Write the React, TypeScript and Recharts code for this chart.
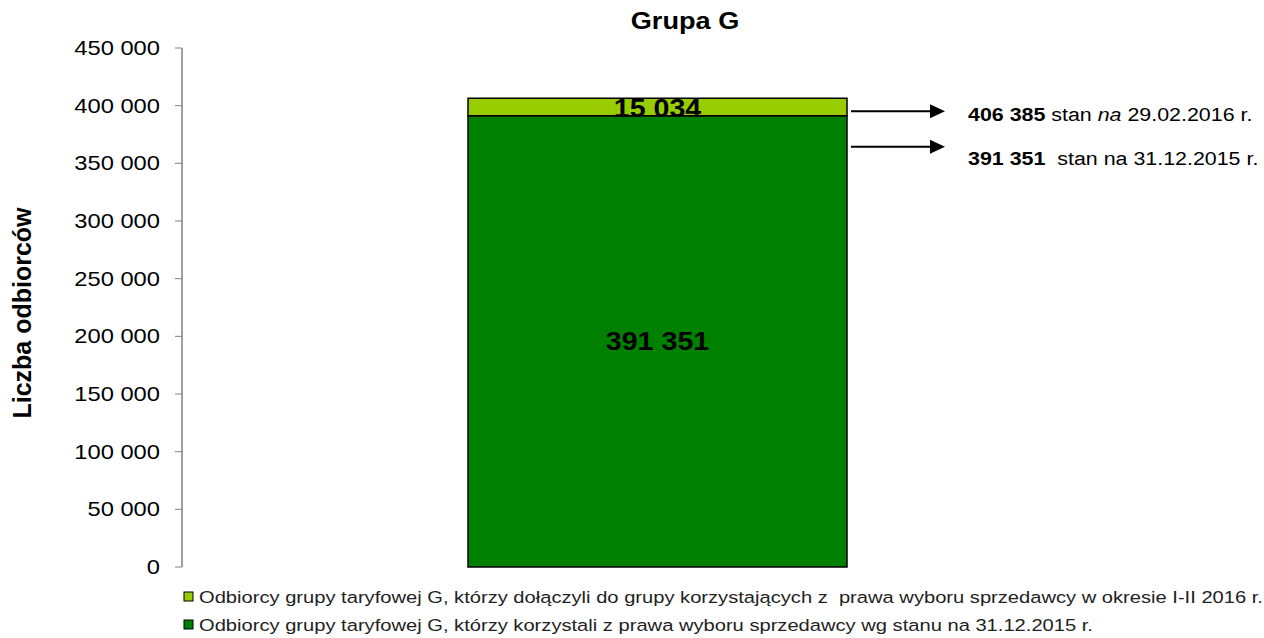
import { BarChart, Bar, XAxis, YAxis, LabelList } from 'recharts'

const categories = ['Grupa G']
const baseValues = [391351]
const addedValues = [15034]
const yTicks = [0, 50000, 100000, 150000, 200000, 250000, 300000, 350000, 400000, 450000]

const seriesBase = {
  key: 'base',
  color: '#008000',
  name: 'Odbiorcy grupy taryfowej G, którzy korzystali z prawa wyboru sprzedawcy wg stanu na 31.12.2015 r.',
}
const seriesAdded = {
  key: 'added',
  color: '#99cc00',
  name: 'Odbiorcy grupy taryfowej G, którzy dołączyli do grupy korzystających z  prawa wyboru sprzedawcy w okresie I-II 2016 r.',
}

const data = categories.map((c, i) => ({ name: c, base: baseValues[i], added: addedValues[i] }))

const fmt = (v: number) => String(v).replace(/\B(?=(\d{3})+(?!\d))/g, ' ')
const FONT = '"Liberation Sans", Arial, sans-serif'

// the source picture is a bit wider than tall, so text is stretched sideways
function SText({ x, y, sx, children, ...rest }: any) {
  return (
    <text transform={`translate(${x},${y}) scale(${sx},1)`} x={0} y={0} fontFamily={FONT} fill="#000" {...rest}>
      {children}
    </text>
  )
}

function Arrow({ x1, x2, y }: { x1: number; x2: number; y: number }) {
  return (
    <g>
      <line x1={x1} y1={y} x2={x2 - 12} y2={y} stroke="#000" strokeWidth={2} />
      <polygon points={`${x2 - 15},${y - 7} ${x2},${y} ${x2 - 15},${y + 7}`} fill="#000" />
    </g>
  )
}

const YTick = (props: any) => {
  const { x, y, payload } = props
  return (
    <SText x={x} y={y} sx={1.13} textAnchor="end" dominantBaseline="central" fontSize={21}>
      {fmt(payload.value)}
    </SText>
  )
}

const baseLabel = (props: any) => {
  const { x, y, width, height, value } = props
  const right = x + width
  return (
    <g>
      <SText x={x + width / 2} y={y + height / 2} sx={1.1} textAnchor="middle" dominantBaseline="central" fontSize={26} fontWeight="bold">
        {fmt(value)}
      </SText>
      <Arrow x1={right + 4} x2={right + 98} y={y + 31} />
      <SText x={right + 121} y={y + 49} sx={1.19} fontSize={18}>
        <tspan fontWeight="bold">{fmt(value)}</tspan>
        <tspan>{'\u00a0 stan na 31.12.2015 r.'}</tspan>
      </SText>
    </g>
  )
}

const addedLabel = (props: any) => {
  const { x, y, width, height, value } = props
  const right = x + width
  const total = baseValues[0] + value
  return (
    <g>
      <SText x={x + width / 2} y={y + height / 2 + 1} sx={1.1} textAnchor="middle" dominantBaseline="central" fontSize={26} fontWeight="bold">
        {fmt(value)}
      </SText>
      <Arrow x1={right + 4} x2={right + 98} y={y + 13} />
      <SText x={right + 121} y={y + 23} sx={1.19} fontSize={18}>
        <tspan fontWeight="bold">{fmt(total)}</tspan>
        <tspan> stan </tspan>
        <tspan fontStyle="italic">na</tspan>
        <tspan> 29.02.2016 r.</tspan>
      </SText>
    </g>
  )
}

export default function App() {
  const legendItems = [seriesAdded, seriesBase]
  return (
    <div style={{ position: 'absolute', left: 0, top: 0, width: 1264, height: 638, background: '#fff' }}>
      <BarChart width={1264} height={638} data={data} margin={{ top: 48, right: 131, bottom: 71, left: 0 }} barSize={379}>
        <XAxis dataKey="name" tick={false} tickLine={false} height={0} axisLine={{ stroke: '#808080', strokeWidth: 1.5 }} />
        <YAxis
          width={182}
          domain={[0, 450000]}
          ticks={yTicks}
          interval={0}
          tickSize={7}
          tickMargin={15}
          tick={YTick}
          tickLine={{ stroke: '#808080' }}
          axisLine={{ stroke: '#808080', strokeWidth: 1.5 }}
        />
        <Bar dataKey="base" stackId="a" fill={seriesBase.color} stroke="#000" strokeWidth={1.5} isAnimationActive={false}>
          <LabelList dataKey="base" content={baseLabel} />
        </Bar>
        <Bar dataKey="added" stackId="a" fill={seriesAdded.color} stroke="#000" strokeWidth={1.5} isAnimationActive={false}>
          <LabelList dataKey="added" content={addedLabel} />
        </Bar>
      </BarChart>
      <svg width={1264} height={638} style={{ position: 'absolute', left: 0, top: 0, pointerEvents: 'none' }}>
        <SText x={685} y={21} sx={1.18} textAnchor="middle" dominantBaseline="central" fontSize={23} fontWeight="bold">
          Grupa G
        </SText>
        <text
          transform="translate(22,313) rotate(-90)"
          textAnchor="middle"
          dominantBaseline="central"
          fontFamily={FONT}
          fontSize={25}
          fontWeight="bold"
          fill="#000"
        >
          Liczba odbiorców
        </text>
        {legendItems.map((s, i) => (
          <g key={s.key}>
            <rect x={184} y={592 + i * 28} width={9} height={9} fill={s.color} stroke="#000" strokeWidth={1} />
            <SText x={199} y={597 + i * 28} sx={1.185} dominantBaseline="central" fontSize={17} fill="#222" style={{ whiteSpace: 'pre' }}>
              {s.name}
            </SText>
          </g>
        ))}
      </svg>
    </div>
  )
}
